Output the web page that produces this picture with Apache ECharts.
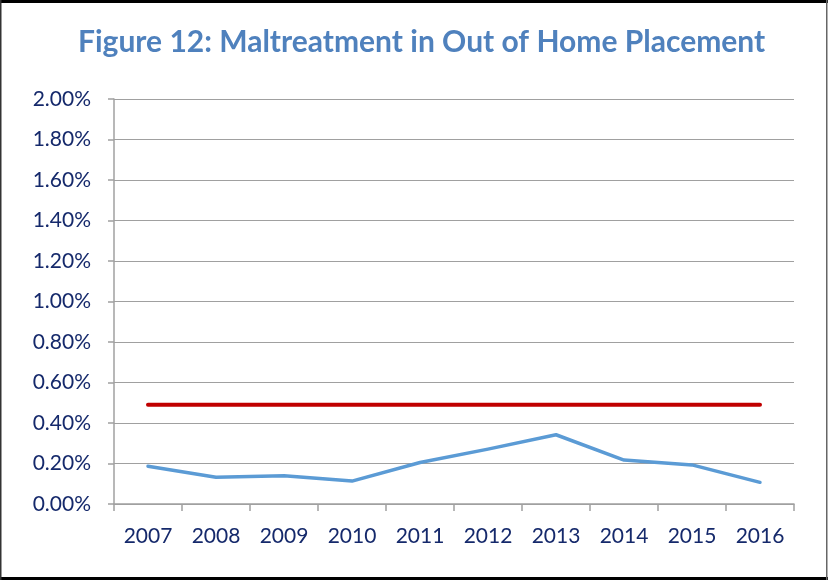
<!DOCTYPE html>
<html>
<head>
<meta charset="utf-8">
<script src="https://cdn.jsdelivr.net/npm/echarts@6/dist/echarts.min.js"></script>
<style>
html,body{margin:0;padding:0;background:#fff;}
#chart{width:828px;height:580px;}
</style>
</head>
<body>
<div id="chart"></div>
<script>
const categories = ['2007','2008','2009','2010','2011','2012','2013','2014','2015','2016'];
const maltreatment = [0.186, 0.132, 0.140, 0.113, 0.205, 0.271, 0.342, 0.217, 0.193, 0.107];
const standard = [0.49, 0.49, 0.49, 0.49, 0.49, 0.49, 0.49, 0.49, 0.49, 0.49];
const titleText = 'Figure 12: Maltreatment in Out of Home Placement';

const chart = echarts.init(document.getElementById('chart'), null, {renderer:'canvas'});
const navy = '#15296b';
chart.setOption({
  animation: false,
  backgroundColor: '#ffffff',
  title: {
    text: titleText,
    left: 73, top: 22,
    textStyle: {color:'#4f81bd', fontFamily:'Lato', fontWeight:'bold', fontSize:30}
  },
  graphic: [
    {type:'rect', left:0, top:0, z:100, silent:true,
     shape:{x:0, y:0, width:828, height:3}, style:{fill:'#000'}},
    {type:'rect', left:0, top:577, z:100, silent:true,
     shape:{x:0, y:0, width:828, height:3}, style:{fill:'#000'}},
    {type:'rect', left:0, top:0, z:100, silent:true,
     shape:{x:0, y:0, width:1.5, height:580}, style:{fill:'#333'}},
    {type:'rect', left:826, top:0, z:100, silent:true,
     shape:{x:0, y:0, width:1.5, height:580}, style:{fill:'#666'}}
  ],
  grid: {left:114, right:34, top:99, bottom:76, containLabel:false},
  xAxis: {
    type:'category', data:categories, boundaryGap:true,
    axisLine:{lineStyle:{color:'#a0a0a0', width:1.5}},
    axisTick:{show:true, length:7, interval:0, lineStyle:{color:'#a0a0a0', width:1.5}},
    axisLabel:{color:navy, fontFamily:'Lato', fontSize:21, margin:22, interval:0}
  },
  yAxis: {
    type:'value', min:0, max:2.0, interval:0.2,
    axisLine:{show:true, lineStyle:{color:'#a0a0a0', width:1.5}},
    axisTick:{show:true, length:6, inside:false, lineStyle:{color:'#a0a0a0', width:1.5}},
    splitLine:{show:true, lineStyle:{color:'#a0a0a0', width:1.2}},
    axisLabel:{color:navy, fontFamily:'Lato', fontSize:21, margin:23,
      formatter: v => v.toFixed(2) + '%'}
  },
  series: [
    {type:'line', data:standard, showSymbol:false, symbol:'none',
     lineStyle:{color:'#c00000', width:4, cap:'round'}, z:3},
    {type:'line', data:maltreatment, showSymbol:false, symbol:'none',
     lineStyle:{color:'#5b9bd5', width:3.5, cap:'round', join:'round'}, z:4}
  ]
});
</script>
</body>
</html>
